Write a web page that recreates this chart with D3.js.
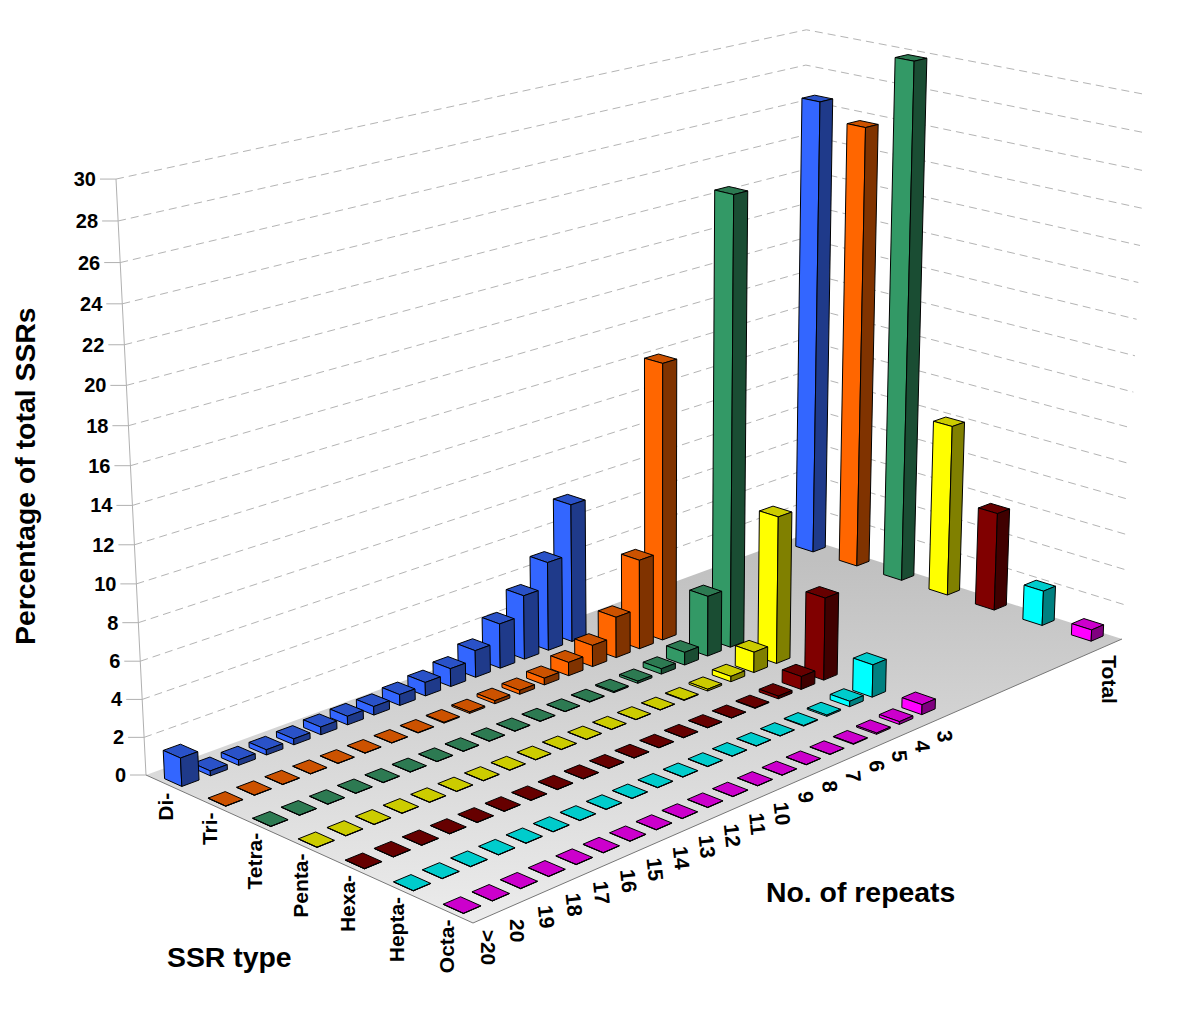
<!DOCTYPE html>
<html>
<head>
<meta charset="utf-8">
<script src="https://cdn.jsdelivr.net/npm/d3@7"></script>
<style>
  html, body { margin: 0; padding: 0; background: #fff; }
  text { font-family: "Liberation Sans", Arial, sans-serif; font-weight: bold; fill: #000; }
</style>
</head>
<body>
<script>
'use strict';

const typeLabels = ['Di-', 'Tri-', 'Tetra-', 'Penta-', 'Hexa-', 'Hepta-', 'Octa-'];
const repeatLabels = ['>20', '20', '19', '18', '17', '16', '15', '14', '13', '12', '11', '10', '9', '8', '7', '6', '5', '4', '3'];
const zTicks = [0, 2, 4, 6, 8, 10, 12, 14, 16, 18, 20, 22, 24, 26, 28, 30];

// one list per SSR type, in repeatLabels order (null = no bar)
const diValues = [1.5, .26, .29, .28, .32, .42, .47, .47, .6, .75, 1.0, 1.5, 2.5, 3.6, 5.0, 7.8, null, null, null];
const triValues = [.01, .01, .01, .01, .01, .01, .01, .02, .04, .08, .17, .22, .38, .75, 1.2, 2.3, 5.05, 15.6, null];
const tetraValues = [.01, .01, .01, .01, .01, .01, .01, .01, .01, .01, .01, .01, .02, .06, .12, .3, .72, 3.4, 25];
const pentaValues = [.01, .01, .01, .01, .01, .01, .01, .01, .01, .01, .01, .01, .01, .01, .03, .1, .3, 1.15, 8.25];
const hexaValues = [.01, .01, .01, .01, .01, .01, .01, .01, .01, .01, .01, .01, .01, .01, .01, .03, .15, .72, 4.6];
const heptaValues = [.01, .01, .01, .01, .01, .01, .01, .01, .01, .01, .01, .01, .01, .01, .01, .03, .07, .3, 1.8];
const octaValues = [.01, .01, .01, .01, .01, .01, .01, .01, .01, .01, .01, .01, .01, .01, .01, .03, .07, .15, .55];
const totalValues = [26.5, 25.6, 29.8, 9.9, 5.65, 2, .65];

const frontColors = ['#3366ff', '#ff6600', '#339966', '#ffff00', '#800000', '#00ffff', '#ff00ff'];
const sideColors = ['#1f3a8a', '#803300', '#1a4d33', '#808000', '#400000', '#008080', '#800080'];
const topColors = ['#2a52c8', '#cc5200', '#2d7a52', '#cccc00', '#660000', '#00cccc', '#cc00cc'];

const allValues = [diValues, triValues, tetraValues, pentaValues, hexaValues, heptaValues, octaValues];

const msm = {
  width: 1200,
  height: 1034,
  gapCells: 7, // empty cells between "3" and "Total"
  // floor corners on screen
  cornerA: [146, 775],      // >20 / Di-
  cornerD: [799.25, 536.25], // Total / Di-
  cornerC: [1122, 639],     // Total / Octa-
  cornerB: [473, 923],      // >20 / Octa-
  zVanish: [654, 10866],
  zTop: [116, 178]          // top of the value axis
};

const svg = d3.select('body').append('svg')
  .attr('width', msm.width)
  .attr('height', msm.height);

// scales on the unit floor
const gapNames = d3.range(msm.gapCells).map((i) => 'gap' + i);
const sScale = d3.scaleBand()
  .domain(repeatLabels.concat(gapNames, ['Total']))
  .range([0, 1])
  .paddingInner(0.4)
  .paddingOuter(0.2);
const tScale = d3.scaleBand()
  .domain(typeLabels)
  .range([0, 1])
  .paddingInner(0.6)
  .paddingOuter(0.3);
const zScale = d3.scaleLinear().domain([0, 30]).range([0, 1]);

// perspective projection: floor homography plus a vertical vanishing point
const project = makeProjection();

function makeProjection() {
  const [x0, y0] = msm.cornerA, [x1, y1] = msm.cornerD, [x2, y2] = msm.cornerC, [x3, y3] = msm.cornerB;
  const dx1 = x1 - x2, dx2 = x3 - x2, sx = x0 - x1 + x2 - x3;
  const dy1 = y1 - y2, dy2 = y3 - y2, sy = y0 - y1 + y2 - y3;
  const den = dx1 * dy2 - dx2 * dy1;
  const g = (sx * dy2 - dx2 * sy) / den;
  const h = (dx1 * sy - sx * dy1) / den;
  const a = x1 - x0 + g * x1, b = x3 - x0 + h * x3;
  const d = y1 - y0 + g * y1, e = y3 - y0 + h * y3;
  const r = (x0 - msm.zTop[0]) / (msm.zTop[0] - msm.zVanish[0]);
  return function(s, t, v) {
    const z = zScale(v);
    const w = g * s + h * t + 1 + r * z;
    return [
      (a * s + b * t + x0 + r * msm.zVanish[0] * z) / w,
      (d * s + e * t + y0 + r * msm.zVanish[1] * z) / w
    ];
  };
}

const polyLine = d3.line();

// floor gradient
const grad = svg.append('defs').append('linearGradient')
  .attr('id', 'floorGrad')
  .attr('gradientUnits', 'userSpaceOnUse')
  .attr('x1', 0).attr('y1', 560)
  .attr('x2', 0).attr('y2', 925);
grad.append('stop').attr('offset', '0%').attr('stop-color', '#c0c0c0');
grad.append('stop').attr('offset', '100%').attr('stop-color', '#ececec');

drawWalls();
drawFloor();
drawBars();
drawLabels();

// dashed gridlines on the two back walls
function drawWalls() {
  zTicks.filter((v) => v > 0).forEach((v) => {
    svg.append('path')
      .attr('d', polyLine([project(0, 0, v), project(1, 0, v), project(1, 1, v)]))
      .attr('fill', 'none')
      .attr('stroke', '#b4b4b4')
      .attr('stroke-dasharray', '8 5');
  });
  svg.append('path')
    .attr('d', polyLine([project(0, 0, 0), project(0, 0, 30)]))
    .attr('stroke', '#b0b0b0')
    .attr('fill', 'none');
}

function drawFloor() {
  svg.append('path')
    .attr('d', polyLine([project(0, 0, 0), project(1, 0, 0), project(1, 1, 0), project(0, 1, 0)]) + 'Z')
    .attr('fill', 'url(#floorGrad)');
  svg.append('path')
    .attr('d', polyLine([project(0, 0, 0), project(0, 1, 0), project(1, 1, 0)]))
    .attr('fill', 'none')
    .attr('stroke', '#777');
}

function drawBars() {
  let bars = [];
  typeLabels.forEach((type, ti) => {
    repeatLabels.forEach((rep, ri) => {
      if (allValues[ti][ri] !== null) bars.push({ type: type, ti: ti, rep: rep, value: allValues[ti][ri] });
    });
    bars.push({ type: type, ti: ti, rep: 'Total', value: totalValues[ti] });
  });
  // painter's order, far corner first
  bars.sort((p, q) => (sScale(q.rep) - sScale(p.rep)) || (p.ti - q.ti));

  const groups = svg.selectAll('.bar').data(bars).enter().append('g').attr('class', 'bar');
  const sw = sScale.bandwidth(), tw = tScale.bandwidth();

  function face(d, pts) {
    const s0 = sScale(d.rep), t0 = tScale(d.type);
    return polyLine(pts.map((p) => project(s0 + p[0] * sw, t0 + p[1] * tw, p[2] * d.value))) + 'Z';
  }
  groups.append('path')
    .attr('d', (d) => face(d, [[0, 0, 1], [1, 0, 1], [1, 1, 1], [0, 1, 1]]))
    .attr('fill', (d) => topColors[d.ti]);
  groups.append('path')
    .attr('d', (d) => face(d, [[0, 0, 0], [0, 1, 0], [0, 1, 1], [0, 0, 1]]))
    .attr('fill', (d) => frontColors[d.ti]);
  groups.append('path')
    .attr('d', (d) => face(d, [[0, 1, 0], [1, 1, 0], [1, 1, 1], [0, 1, 1]]))
    .attr('fill', (d) => sideColors[d.ti]);
  groups.selectAll('path')
    .attr('stroke', '#000')
    .attr('stroke-width', 1)
    .attr('stroke-linejoin', 'round');
}

function drawLabels() {
  // value axis ticks
  zTicks.forEach((v) => {
    const p = project(0, 0, v);
    svg.append('line')
      .attr('x1', p[0] - 16).attr('x2', p[0])
      .attr('y1', p[1]).attr('y2', p[1])
      .attr('stroke', '#b0b0b0');
    svg.append('text')
      .attr('x', p[0] - 20)
      .attr('y', p[1] + 7)
      .attr('text-anchor', 'end')
      .style('font-size', '20px')
      .text(v);
  });

  // SSR types along the front-left edge
  typeLabels.forEach((type) => {
    const p = project(0, tScale(type) + tScale.bandwidth() / 2, 0);
    svg.append('text')
      .attr('transform', 'translate(' + (p[0] + 6) + ',' + (p[1] + 8) + ') rotate(-90)')
      .attr('text-anchor', 'end')
      .style('font-size', '21px')
      .text(type);
  });

  // repeats along the front-right edge
  repeatLabels.concat(['Total']).forEach((rep) => {
    const p = project(sScale(rep) + sScale.bandwidth() / 2, 1, 0);
    const flat = rep === 'Total' || rep === '>20' || rep === '20';
    const dx = rep === 'Total' ? -17 : -14;
    const dy = rep === 'Total' ? 12 : (rep === '>20' ? 13 : 15);
    svg.append('text')
      .attr('transform', 'translate(' + (p[0] + dx) + ',' + (p[1] + dy) + ') rotate(' + (flat ? 90 : 84) + ')')
      .attr('dy', '-0.35em')
      .style('font-size', '21px')
      .text(rep);
  });

  svg.append('text')
    .attr('transform', 'translate(35,645) rotate(-90)')
    .style('font-size', '28.4px')
    .text('Percentage of total SSRs');
  svg.append('text')
    .attr('x', 766).attr('y', 902)
    .style('font-size', '28.4px')
    .text('No. of repeats');
  svg.append('text')
    .attr('x', 167).attr('y', 967)
    .style('font-size', '28.4px')
    .text('SSR type');
}
</script>
</body>
</html>
